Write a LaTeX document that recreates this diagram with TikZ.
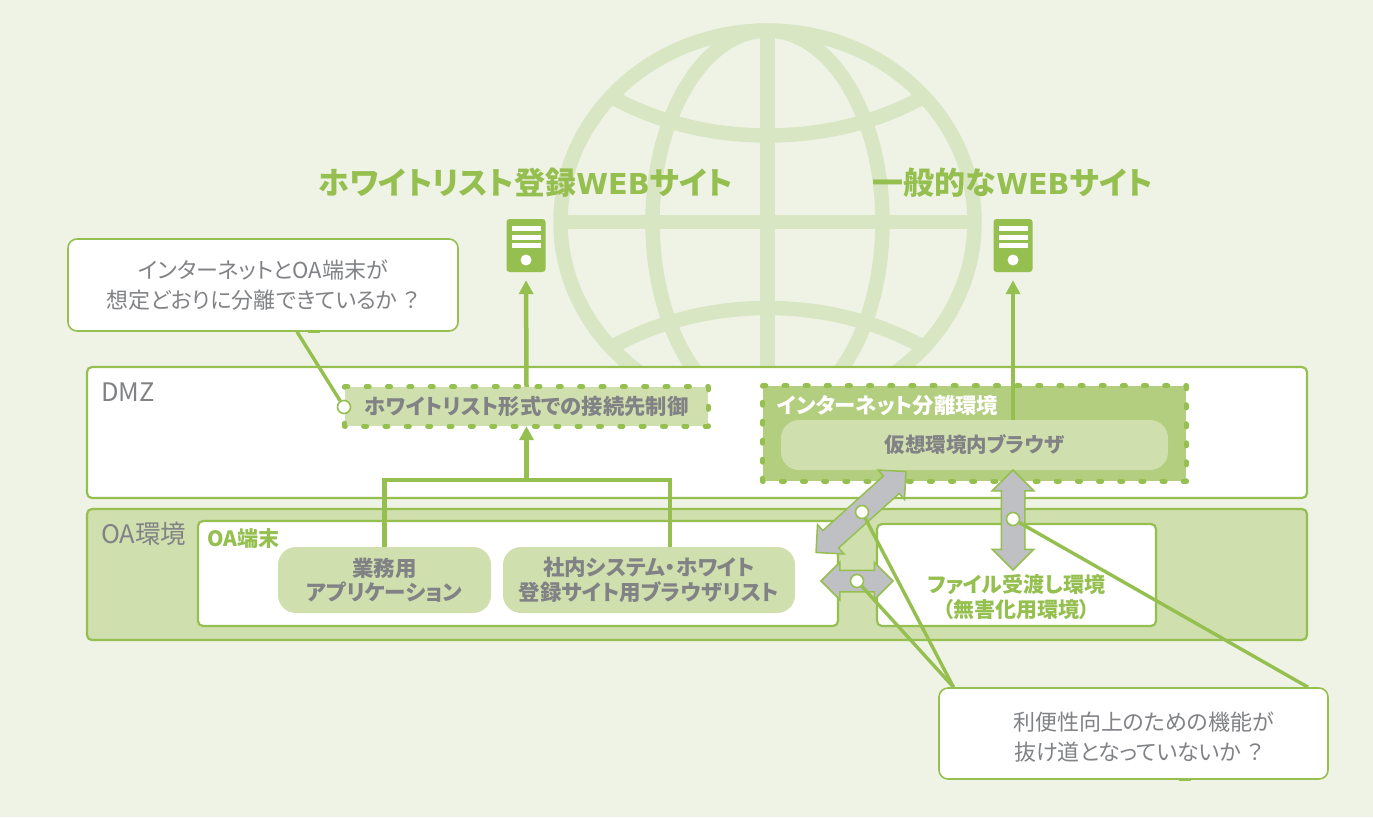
\documentclass[tikz,border=0pt]{standalone}
\usepackage{fontspec}
\setmainfont[RawFeature=+palt]{Noto Sans CJK JP}
\newfontfamily\webfont[Scale=0.93]{DejaVu Sans}
\usetikzlibrary{arrows.meta,shapes.arrows}
\definecolor{leaf}{HTML}{95BF4F}
\definecolor{pale}{HTML}{D0DFAE}
\definecolor{mid}{HTML}{B2CE7E}
\definecolor{ground}{HTML}{EFF3E6}
\definecolor{globeline}{HTML}{D9E6C3}
\definecolor{label}{HTML}{808285}
\definecolor{swap}{HTML}{BFC0C3}
\tikzset{
  zone/.style={draw=leaf, line width=2.2, rounded corners=5, inner sep=0},
  callbox/.style={zone, fill=white, line width=1.6, rounded corners=9, align=center, text=label, font=\fontsize{22}{30}\selectfont},
  guard/.style={draw=leaf, line width=5, line cap=round},
  soft/.style={fill=pale, rounded corners=18, inner sep=0, align=center, text=label, font=\bfseries\fontsize{20.5}{25}\selectfont},
  appbox/.style={soft, font=\bfseries\fontsize{21.5}{24.5}\selectfont},
  flow/.style={leaf, line width=4.5, -{Triangle[width=14,length=14]}},
  wire/.style={leaf, line width=4.5},
  lead/.style={leaf, line width=3.4},
  swaparrow/.style={double arrow, draw=leaf, fill=swap, line width=1.5, inner sep=0, text depth=0pt, minimum width=0pt},
  dot/.style={circle, draw=leaf, fill=white, line width=1.6, minimum size=13, inner sep=0},
  server/.style={fill=leaf, rounded corners=3, minimum width=39, minimum height=53, inner sep=0},
  sitetitle/.style={text=leaf, font=\bfseries\fontsize{31}{36}\selectfont},
  zonename/.style={text=label, font=\fontsize{25.5}{29}\selectfont, anchor=west, inner sep=0}
}
\begin{document}
\begin{tikzpicture}[x=1pt, y=-1pt]
  \fill[ground] (0,0) rectangle (1373,817);
  \draw[globeline, line width=14.5] (767.5,222) ellipse (207 and 191.5);
  \draw[globeline, line width=14.5] (767.5,222) ellipse (115 and 191.5);
  \draw[globeline, line width=14.5] (767.5,30) -- (767.5,414);
  \draw[globeline, line width=14.5] (560,222) -- (975,222);
  \draw[globeline, line width=14.5] (610,96) .. controls (660,124) and (715,135.5) .. (767.5,135.5) .. controls (820,135.5) and (875,124) .. (925,96);
  \draw[globeline, line width=14.5] (610,348) .. controls (660,320) and (715,308) .. (767.5,308) .. controls (820,308) and (875,320) .. (925,348);

  \node[sitetitle] at (526,183) {ホワイトリスト登録{\webfont WEB}サイト};
  \node[sitetitle] at (1013,183) {一般的な{\webfont WEB}サイト};
  \node[server] (srvA) at (526,245.5) {};
  \node[server] (srvB) at (1013,245.5) {};
  \foreach \cx in {526,1013} {
    \foreach \sy in {226,234.5,243}
      \fill[white] (\cx-14.5,\sy) rectangle ++(29,5);
    \fill[white] (\cx,260) circle (5.5);
  }

  \node[callbox, minimum width=390, minimum height=92] (callA) at (263,285) {インターネットとOA端末が\\想定どおりに分離できているか\hspace{6pt}？};
  \node[callbox, minimum width=389, minimum height=91] (callB) at (1133.5,733.5) {\rule{0pt}{26pt}\hspace*{20pt}利便性向上のための機能が\\\hspace*{10pt}抜け道となっていないか\hspace{6pt}？};
  \draw[leaf, line width=3] ([xshift=45]callA.south) -- ([xshift=57]callA.south);
  \draw[leaf, line width=3] ([xshift=45]callB.south) -- ([xshift=57]callB.south);

  \node[zone, fill=white, minimum width=1220, minimum height=131] (dmz) at (697,432.5) {};
  \node[zone, fill=pale, minimum width=1220, minimum height=131] (oaenv) at (697,574.5) {};
  \node[zonename] at (101,392) {DMZ};
  \node[zonename] at (101,534) {OA環境};
  \node[zone, fill=white, minimum width=640, minimum height=105] (oapc) at (518,573.5) {};
  \node[zone, fill=white, minimum width=279, minimum height=102] (filebox) at (1016.5,575) {};
  \node[text=leaf, align=center, font=\bfseries\fontsize{21}{25}\selectfont] at (1016.5,597) {ファイル受渡し環境\\（無害化用環境）};
  \node[text=leaf, anchor=west, inner sep=0, font=\bfseries\fontsize{21}{22}\selectfont] at (207,539) {OA端末};

  \node[fill=pale, inner sep=0, minimum width=363, minimum height=39, text=label, font=\bfseries\fontsize{21.3}{24}\selectfont] (filter) at (526.5,406.5) {ホワイトリスト形式での接続先制御};
  \foreach \from/\to/\gap in {north west/north east/18.35, south east/south west/18.35, north east/south east/16.5, south west/north west/16.5}
    \draw[guard, dash pattern=on 3pt off \gap pt] (filter.\from) -- (filter.\to);
  \node[fill=mid, inner sep=0, minimum width=423, minimum height=95] (isolate) at (974.5,433.5) {};
  \foreach \from/\to/\gap in {north west/north east/18.15, south east/south west/18.15, north east/south east/16, south west/north west/16}
    \draw[guard, dash pattern=on 3pt off \gap pt] (isolate.\from) -- (isolate.\to);
  \node[text=white, anchor=west, inner sep=0, font=\bfseries\fontsize{21.3}{24}\selectfont] at (777,405) {インターネット分離環境};
  \node[soft, minimum width=387, minimum height=50] (vbrowser) at (974.5,445) {仮想環境内ブラウザ};
  \node[appbox, minimum width=213, minimum height=66] (bizapp) at (384.5,580) {業務用\\アプリケーション};
  \node[appbox, minimum width=292, minimum height=66] (listapp) at (649,580) {社内システム・ホワイト\\登録サイト用ブラウザリスト};

  \coordinate (joinL) at (384.5,480);
  \coordinate (joinR) at (670,480);
  \coordinate (joinM) at (526.5,480);
  \draw[wire] (bizapp.north) -- (joinL) -- (joinR) -- (listapp.north -| joinR);
  \draw[flow] (joinM) -- (filter.south);
  \draw[flow, shorten >=8] (filter.north) -- (srvA.south);
  \draw[flow, shorten >=8] (vbrowser.north -| srvB.south) -- (srvB.south);

  \node[swaparrow, rotate=42, minimum height=121, text height=22pt, double arrow head extend=8pt] (swapD) at (861,512) {};
  \node[swaparrow, rotate=90, minimum height=100, text height=22pt, double arrow head extend=9pt] (swapV) at (1013,520) {};
  \node[swaparrow, minimum height=72, text height=20pt, double arrow head extend=8pt] (swapH) at (857,581) {};

  \node[dot] (dotW) at (344,407) {};
  \node[dot] (dotD) at (862,512) {};
  \node[dot] (dotH) at (857,581) {};
  \node[dot] (dotV) at (1013,519) {};
  \draw[lead] (dotW) -- ([xshift=34]callA.south);
  \draw[lead] (dotD) -- ([xshift=-180]callB.north);
  \draw[lead] (dotH) -- ([xshift=-180]callB.north);
  \draw[lead] (dotV) -- ([xshift=174.5]callB.north);
\end{tikzpicture}
\end{document}
